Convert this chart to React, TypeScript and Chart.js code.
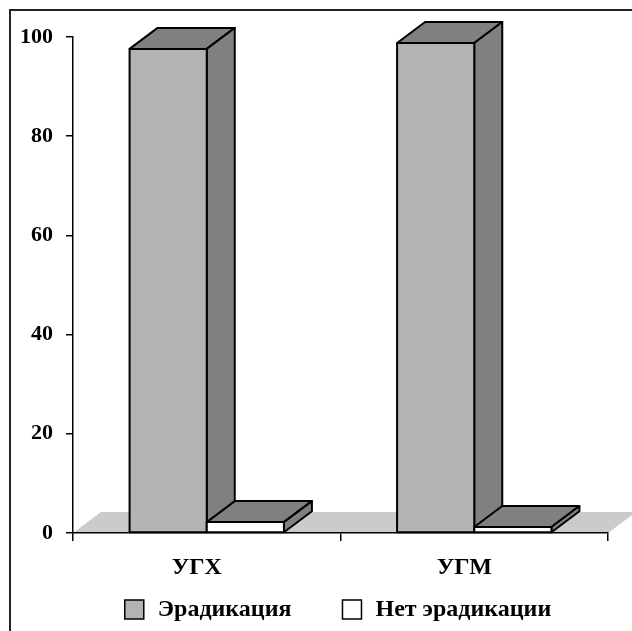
import React, { useEffect, useRef } from "react";
import { Chart, registerables } from "chart.js";

Chart.register(...registerables);

const categories = ["УГХ", "УГМ"];
const seriesNames = ["Эрадикация", "Нет эрадикации"];
const eradication = [97.6, 98.8];
const noEradication = [2.2, 1.2];
const yMin = 0;
const yMax = 100;
const yStep = 20;

const frontColors = ["#b3b3b3", "#ffffff"];
const sideColor = "#808080";
const floorColor = "#cbcbcb";
const DX = 28;
const DY = -21;
const FONT = '"Liberation Serif", "Times New Roman", serif';

function poly(ctx: CanvasRenderingContext2D, pts: number[][], fill: string) {
  ctx.beginPath();
  ctx.moveTo(pts[0][0], pts[0][1]);
  for (let i = 1; i < pts.length; i++) ctx.lineTo(pts[i][0], pts[i][1]);
  ctx.closePath();
  ctx.fillStyle = fill;
  ctx.fill();
  ctx.stroke();
}

const threeD = {
  id: "threeD",
  beforeDraw(chart: any) {
    const ctx = chart.ctx as CanvasRenderingContext2D;
    const { left, right, bottom } = chart.chartArea;
    ctx.save();
    ctx.strokeStyle = "#222";
    ctx.lineWidth = 2;
    ctx.beginPath();
    ctx.moveTo(10, chart.height);
    ctx.lineTo(10, 10);
    ctx.lineTo(chart.width, 10);
    ctx.stroke();
    ctx.fillStyle = floorColor;
    ctx.beginPath();
    ctx.moveTo(left, bottom);
    ctx.lineTo(right, bottom);
    ctx.lineTo(right + DX, bottom + DY);
    ctx.lineTo(left + DX, bottom + DY);
    ctx.closePath();
    ctx.fill();
    ctx.restore();
  },
  afterDatasetsDraw(chart: any) {
    const ctx = chart.ctx as CanvasRenderingContext2D;
    const n = chart.data.labels.length;
    ctx.save();
    ctx.lineWidth = 2;
    ctx.strokeStyle = "#000";
    ctx.lineJoin = "round";
    for (let j = 0; j < n; j++) {
      for (let d = 0; d < chart.data.datasets.length; d++) {
        const el = chart.getDatasetMeta(d).data[j];
        const { x, y, base, width } = el.getProps(["x", "y", "base", "width"], true);
        const l = x - width / 2;
        const r = x + width / 2;
        poly(ctx, [[l, y], [r, y], [r + DX, y + DY], [l + DX, y + DY]], sideColor);
        poly(ctx, [[r, y], [r + DX, y + DY], [r + DX, base + DY], [r, base]], sideColor);
        poly(ctx, [[l, y], [r, y], [r, base], [l, base]], frontColors[d]);
      }
    }
    ctx.restore();
  },
  afterDraw(chart: any) {
    const ctx = chart.ctx as CanvasRenderingContext2D;
    ctx.save();
    ctx.font = `bold 24px ${FONT}`;
    const box = 19;
    const gapText = 14;
    const gapItem = 51;
    const widths = seriesNames.map((s) => ctx.measureText(s).width);
    let total = 0;
    widths.forEach((w, i) => {
      total += box + gapText + w + (i < widths.length - 1 ? gapItem : 0);
    });
    const centerX = 338;
    const cy = 609.5;
    let x = centerX - total / 2;
    ctx.lineWidth = 1.5;
    ctx.strokeStyle = "#000";
    ctx.textBaseline = "middle";
    ctx.textAlign = "left";
    seriesNames.forEach((s, i) => {
      ctx.fillStyle = frontColors[i];
      ctx.fillRect(x, cy - box / 2, box, box);
      ctx.strokeRect(x, cy - box / 2, box, box);
      ctx.fillStyle = "#000";
      ctx.fillText(s, x + box + gapText, cy);
      x += box + gapText + widths[i] + gapItem;
    });
    ctx.restore();
  },
};

export default function App() {
  const ref = useRef<HTMLCanvasElement | null>(null);
  useEffect(() => {
    document.body.style.margin = "0";
    const canvas = ref.current!;
    const chart = new Chart(canvas, {
      type: "bar",
      data: {
        labels: categories,
        datasets: [
          { label: seriesNames[0], data: eradication, backgroundColor: "rgba(0,0,0,0)", borderWidth: 0 },
          { label: seriesNames[1], data: noEradication, backgroundColor: "rgba(0,0,0,0)", borderWidth: 0 },
        ],
      },
      options: {
        animation: false,
        responsive: false,
        datasets: { bar: { categoryPercentage: 0.577, barPercentage: 1 } },
        layout: { padding: { top: 37, right: 24, left: 0, bottom: 0 } },
        plugins: { legend: { display: false }, tooltip: { enabled: false } },
        scales: {
          x: {
            offset: true,
            grid: { offset: true, drawOnChartArea: false, tickLength: 8, color: "#000", lineWidth: 1.5 },
            border: { color: "#000", width: 1.5 },
            ticks: { color: "#000", font: { family: FONT, size: 24, weight: "bold" }, padding: 12, labelOffset: -10 },
            afterFit: (s: any) => { s.height = 98; },
          },
          y: {
            min: yMin,
            max: yMax,
            ticks: { stepSize: yStep, color: "#000", font: { family: FONT, size: 22, weight: "bold" }, padding: 13 },
            grid: { drawOnChartArea: false, tickLength: 7, color: "#000", lineWidth: 1.5 },
            border: { color: "#000", width: 1.5 },
            afterFit: (s: any) => { s.width = 73; },
          },
        },
      },
      plugins: [threeD],
    });
    return () => chart.destroy();
  }, []);
  return <canvas ref={ref} width={632} height={631} style={{ display: "block", width: 632, height: 631 }} />;
}
